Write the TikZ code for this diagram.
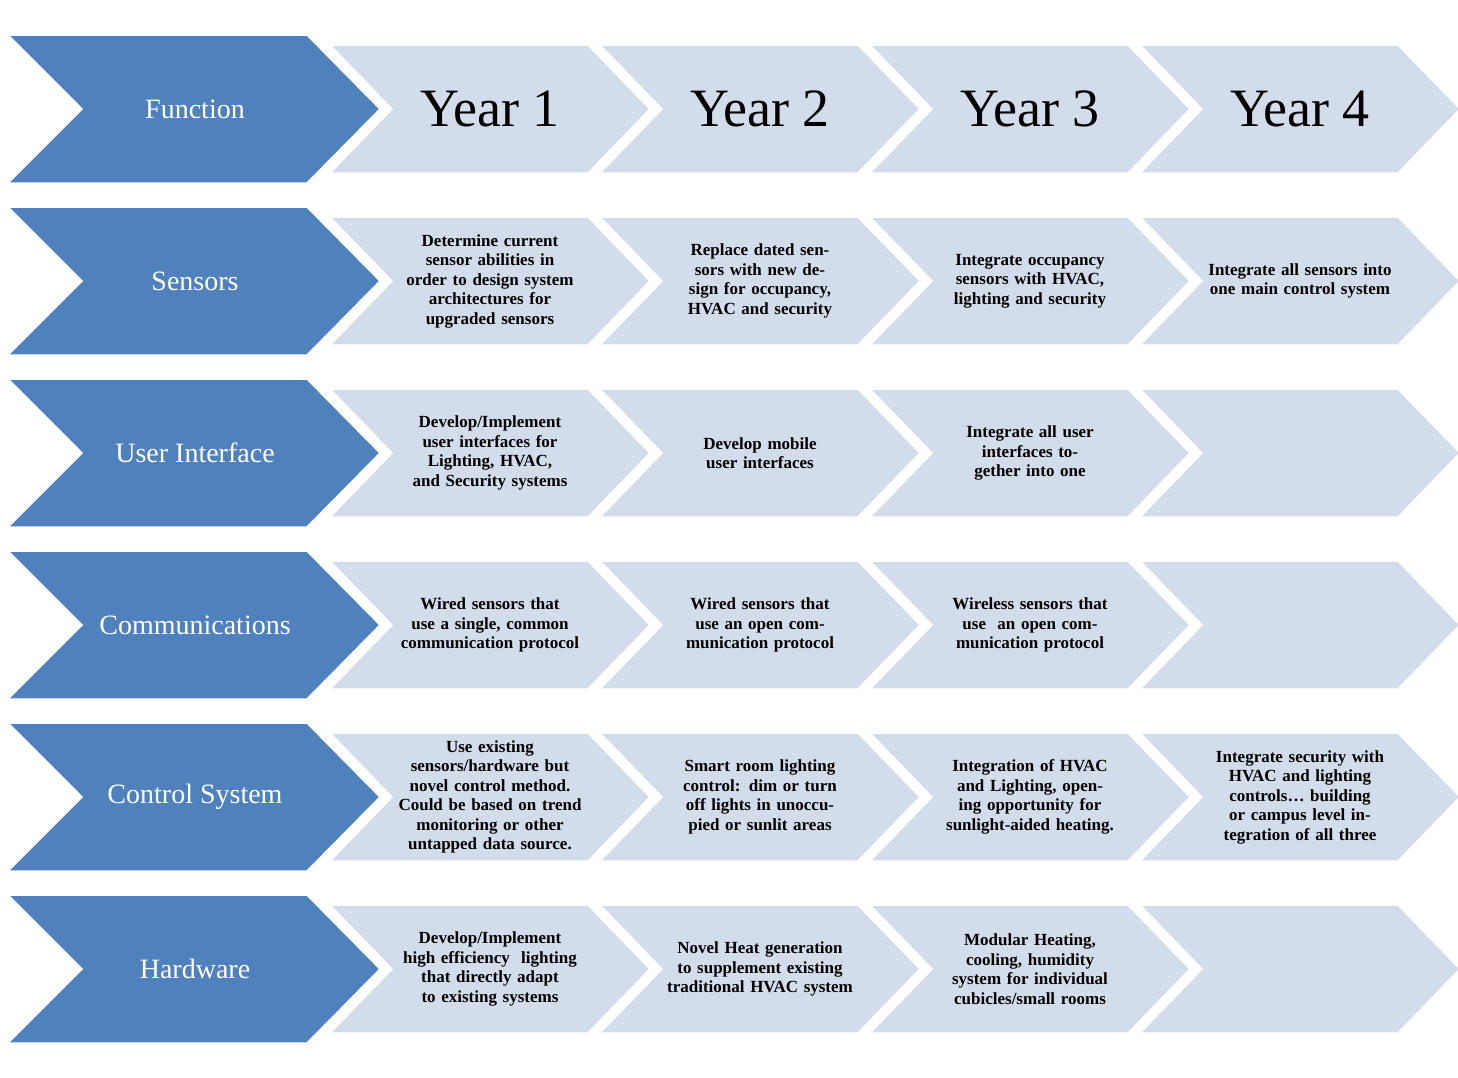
\documentclass[tikz,border=0pt]{standalone}
\usepackage{fontspec}
\setmainfont{Liberation Serif}
\definecolor{headblue}{HTML}{4F81BD}
\definecolor{cellgray}{HTML}{D3DCEA}
\begin{document}
\begin{tikzpicture}[x=1pt,y=-1pt,
    head/.style={fill=headblue, draw=white, line width=1.5pt},
    cell/.style={fill=cellgray, draw=white, line width=1.5pt},
    headtext/.style={text=white, font=\fontsize{28}{30}\selectfont},
    yeartext/.style={font=\fontsize{54}{56}\selectfont},
    celltext/.style={font=\fontsize{17}{19.5}\selectfont\bfseries, align=center, text width=190pt, inner sep=0pt}
]
\useasboundingbox (0,0) rectangle (1458,1077);

% Row chevrons
\foreach \r/\y in {0/109,1/281,2/453,3/625,4/797,5/969} {
    \draw[head] (8,\y-74) -- (307,\y-74) -- (380,\y) -- (307,\y+74) -- (8,\y+74) -- (82,\y) -- cycle;
    \foreach \k in {0,1,2,3} {
        \pgfmathsetmacro\xl{330+270*\k}
        \draw[cell] (\xl,\y-64) -- (\xl+258,\y-64) -- (\xl+320,\y) -- (\xl+258,\y+64) -- (\xl,\y+64) -- (\xl+62,\y) -- cycle;
    }
}

% Function column
\node[headtext] (function) at (195,109) {Function};
\node[headtext] (sensors) at (195,281) {Sensors};
\node[headtext] (ui) at (195,453) {User Interface};
\node[headtext] (comm) at (195,625) {Communications};
\node[headtext] (control) at (195,797) {Control System};
\node[headtext] (hardware) at (195,969) {Hardware};

% Years
\node[yeartext] (year1) at (490,109) {Year 1};
\node[yeartext] (year2) at (760,109) {Year 2};
\node[yeartext] (year3) at (1030,109) {Year 3};
\node[yeartext] (year4) at (1300,109) {Year 4};

% Sensors
\node[celltext] (sens1) at (490,281) {Determine current sensor abilities in order to design system architectures for upgraded sensors};
\node[celltext] (sens2) at (760,281) {Replace dated sensors with new design for occupancy, HVAC and security};
\node[celltext] (sens3) at (1030,281) {Integrate occupancy sensors with HVAC, lighting and security};
\node[celltext] (sens4) at (1300,281) {Integrate all sensors into one main control system};

% User interface
\node[celltext] (ui1) at (490,453) {Develop/Implement user interfaces for Lighting, HVAC, and Security systems};
\node[celltext] (ui2) at (760,453) {Develop mobile user interfaces};
\node[celltext] (ui3) at (1030,453) {Integrate all user\\ interfaces together into one};

% Communications
\node[celltext] (comm1) at (490,625) {Wired sensors that use a single, common communication protocol};
\node[celltext] (comm2) at (760,625) {Wired sensors that use an open communication protocol};
\node[celltext] (comm3) at (1030,625) {Wireless sensors that\\ use\ \ an open communication protocol};

% Control system
\node[celltext] (ctrl1) at (490,797) {Use existing\\ sensors/hardware but novel control method. Could be based on trend monitoring or other untapped data source.};
\node[celltext] (ctrl2) at (760,797) {Smart room lighting control: dim or turn off lights in unoccupied or sunlit areas};
\node[celltext] (ctrl3) at (1030,797) {Integration of HVAC and Lighting, opening opportunity for sunlight-aided heating.};
\node[celltext] (ctrl4) at (1300,797) {Integrate security with HVAC and lighting controls\dots{} building or campus level integration of all three};

% Hardware
\node[celltext] (hw1) at (490,969) {Develop/Implement high efficiency\ \ lighting that directly adapt to existing systems};
\node[celltext] (hw2) at (760,969) {Novel Heat generation to supplement existing traditional HVAC system};
\node[celltext] (hw3) at (1030,969) {Modular Heating, cooling, humidity system for individual cubicles/small rooms};
\end{tikzpicture}
\end{document}
